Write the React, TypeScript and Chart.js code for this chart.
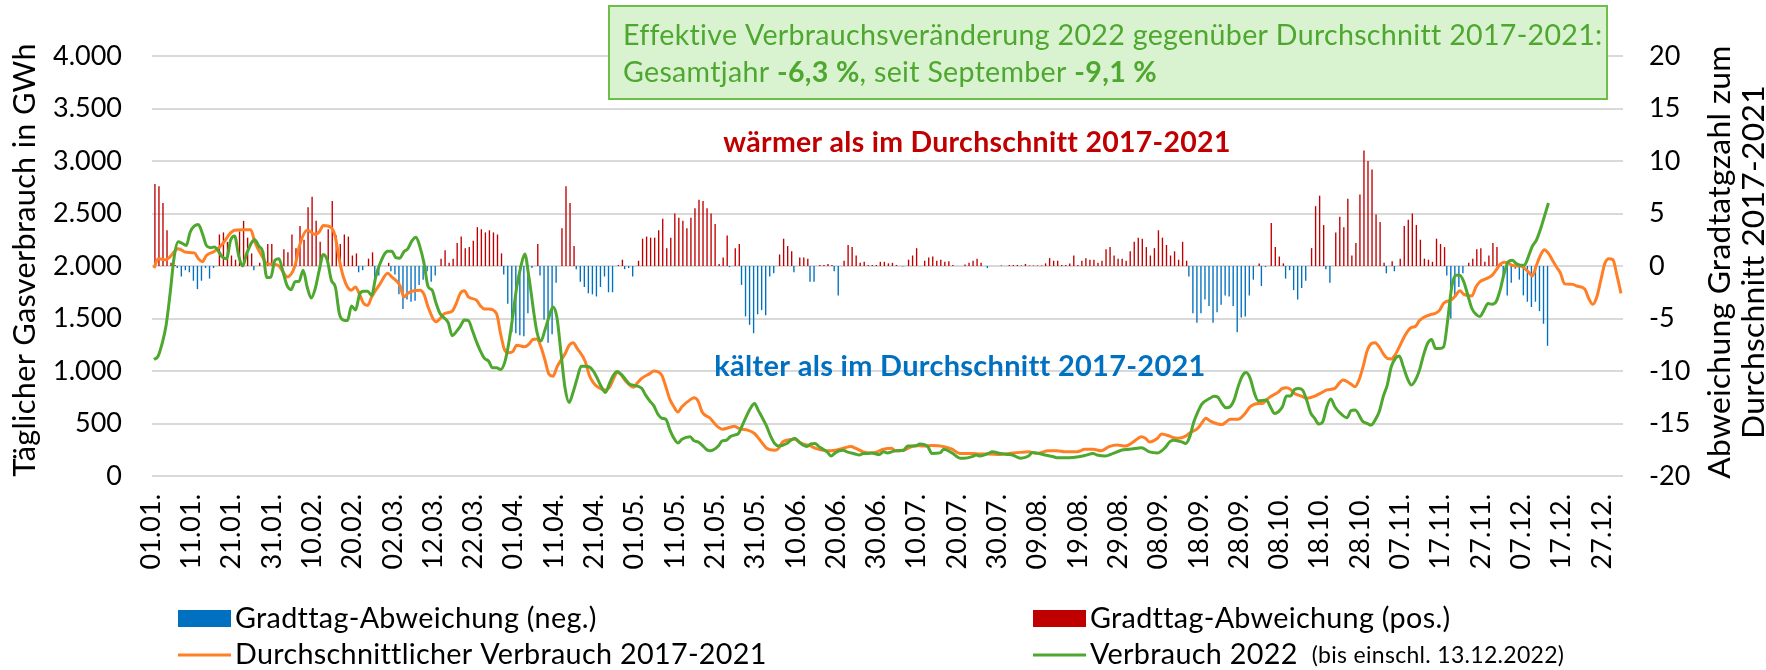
import React, { useEffect, useRef } from "react";
import { Chart, registerables } from "chart.js";

Chart.register(...registerables);

const W = 1766;
const H = 670;
const FONT = "Lato, 'Liberation Sans', Arial, sans-serif";

// ---------- categories / tick labels ----------
const MONTH_LENGTHS = [31, 28, 31, 30, 31, 30, 31, 31, 30, 31, 30, 31];
const DAY_LABELS: string[] = MONTH_LENGTHS.flatMap((len, m) =>
  Array.from({ length: len }, (_, i) => `${String(i + 1).padStart(2, "0")}.${String(m + 1).padStart(2, "0")}.`)
);
const TICK_STEP = 10;

const LEFT_AXIS = { min: 0, max: 4000, step: 500 };
const RIGHT_AXIS = { min: -20, max: 20, step: 5 };

// ---------- Gradtag deviation per day (01.01. - 13.12.) ----------
const GRADTAG_DEVIATION = [
  7.8, 7.6, 6.0, 3.4, 0.3, 0.1, -0.2, -1.0, -0.4, -0.6,
  -1.4, -2.2, -1.4, -0.2, -1.2, -0.2, 3.0, 3.2, 2.3, 1.0,
  0.6, 3.3, 4.3, 2.7, 1.2, -0.4, 0.3, 0, 2.1, 2.1,
  0, 0, 1.6, 1.3, 3.0, 1.7, 3.8, 2.5, 5.6, 6.6,
  4.3, 2.3, 0, 3.5, 6.2, 2.9, 2.1, 3.0, 2.8, 1.0,
  1.2, -0.6, -0.4, 0.7, 1.3, -1.2, -0.9, 0, 0.3, -0.5,
  -0.8, -2.7, -4.1, -3.2, -3.4, -3.3, -1.8, -1.3, -0.5, -1.5,
  -0.9, 0.7, 1.5, 0.3, 0.7, 2.2, 2.8, 1.7, 1.8, 2.4,
  3.7, 3.5, 3.2, 3.4, 3.2, 3.0, 1.2, -0.8, -3.6, -6.3,
  -6.4, -6.6, -6.7, -4.5, -0.2, 2.1, -0.9, -5.1, -7.3, -6.5,
  -1.6, 3.6, 7.6, 6.0, 1.9, -0.3, -1.5, -2.0, -2.6, -2.7,
  -2.9, -2.0, -1.0, -2.5, -2.5, 0.1, 0.6, -0.3, -0.2, -1.0,
  0.5, 2.6, 2.8, 2.7, 2.7, 3.4, 4.5, 1.7, 2.7, 5.0,
  4.6, 4.3, 3.6, 4.6, 5.5, 6.3, 6.2, 5.5, 5.0, 4.0,
  0.2, 0.8, 2.9, -0.1, 1.7, 2.1, -1.8, -4.8, -5.6, -6.4,
  -4.6, -4.2, -4.7, -1.0, -0.7, 1.1, 2.6, 1.9, 1.4, -0.6,
  0.8, 0.8, 0.7, -1.5, -1.5, 0.1, 0.1, 0.2, 0.1, -0.5,
  -2.8, 0.5, 2.0, 1.8, 1.0, 0.3, 0.4, 0.1, 0.1, 0.1,
  0.4, 0.4, 0.25, 0.3, 0.1, 0, -0.05, 0.6, 1.0, 1.7,
  0, 0.5, 0.8, 0.9, 0.5, 0.6, 0.4, 0.45, 0.1, 0,
  0, 0.15, 0.3, 0.5, 0.7, 0.3, 0, -0.2, 0, 0,
  0.05, 0, 0.1, 0.1, 0.1, 0.05, 0.2, 0.05, 0.05, 0.05,
  0.05, 0.25, 0.75, 0.5, 0.5, 0.1, 0.1, 0.25, 1.0, 0.1,
  0.5, 0.75, 0.6, 0.6, 0.3, 0.5, 1.6, 1.8, 1.0, 0.7,
  0.7, 0.5, 1.4, 2.3, 2.7, 2.6, 1.8, 1.0, 1.7, 3.4,
  2.7, 2.0, 1.0, 1.4, 0.6, 2.3, 0.5, -1.0, -4.5, -5.4,
  -4.5, -3.2, -3.8, -5.4, -4.4, -3.7, -2.8, -2.9, -3.8, -6.3,
  -4.9, -4.8, -2.8, -1.3, 0.25, -1.9, -0.1, 4.1, 1.8, 0.9,
  0.25, -1.2, -0.4, -2.3, -3.2, -2.1, -1.4, 1.7, 5.7, 6.7,
  3.9, -0.3, -1.6, 3.2, 4.7, 3.7, 6.4, 1.0, 2.2, 6.8,
  11.0, 10.0, 9.2, 4.9, 4.2, 0.3, -0.7, 0.45, -0.5, 0.7,
  3.8, 4.4, 5.0, 3.9, 2.5, 0.7, 0.6, 0.4, 2.6, 2.1,
  1.8, -0.9, -5.0, -2.9, -2.0, -0.7, 0.3, 0.7, 1.6, 1.7,
  0.4, 1.0, 2.2, 1.8, 0.15, -1.3, -2.8, -1.6, -0.25, -1.3,
  -2.8, -3.4, -3.9, -3.4, -4.3, -5.5, -7.6,
];

// ---------- Durchschnittlicher Verbrauch 2017-2021 [dayIndex, GWh] ----------
const AVG_2017_2021: [number, number][] = [
  [0, 1980], [1, 2070], [3, 2060], [4, 2090], [6, 2165], [8, 2130], [10, 2125], [11, 2070], [12, 2040], [13, 2100],
  [15, 2140], [17, 2210], [19, 2315], [20, 2340], [22, 2345], [24, 2345], [25, 2230], [27, 2080], [28, 2020], [30, 2015],
  [31, 2000], [32, 1945], [33, 1895], [35, 2005], [36, 2180], [38, 2340], [40, 2300], [41, 2325], [42, 2385], [44, 2365],
  [45, 2275], [46, 2055], [47, 1895], [48, 1800], [49, 1770], [50, 1800], [51, 1730], [52, 1645], [53, 1625], [54, 1705],
  [56, 1825], [58, 1930], [59, 1895], [61, 1815], [62, 1705], [63, 1740], [64, 1760], [66, 1770], [67, 1730], [68, 1610],
  [70, 1470], [71, 1500], [72, 1545], [74, 1570], [75, 1645], [76, 1740], [77, 1765], [78, 1705], [80, 1675], [81, 1620],
  [82, 1590], [83, 1590], [85, 1545], [86, 1355], [87, 1200], [88, 1175], [89, 1185], [90, 1245], [92, 1230], [93, 1255],
  [94, 1300], [95, 1305], [96, 1230], [97, 1105], [98, 970], [99, 950], [100, 1040], [102, 1165], [103, 1245], [104, 1270],
  [105, 1215], [107, 1090], [108, 960], [109, 890], [110, 850], [112, 820], [113, 845], [114, 925], [115, 985], [116, 960],
  [117, 905], [119, 845], [120, 890], [121, 930], [123, 975], [124, 1000], [125, 995], [126, 960], [127, 850], [128, 730],
  [129, 660], [130, 610], [131, 660], [133, 725], [134, 745], [135, 715], [136, 610], [138, 550], [139, 505], [140, 465],
  [141, 445], [143, 465], [144, 475], [145, 455], [146, 445], [147, 440], [149, 405], [150, 360], [151, 310], [152, 265],
  [154, 245], [155, 265], [156, 325], [157, 340], [159, 350], [160, 325], [161, 305], [163, 285], [164, 265], [166, 245],
  [168, 240], [169, 245], [171, 265], [173, 280], [174, 265], [176, 230], [178, 220], [179, 225], [181, 255], [183, 265],
  [184, 240], [186, 245], [188, 280], [189, 290], [191, 285], [193, 290], [196, 280], [198, 255], [200, 215], [203, 215],
  [205, 210], [207, 210], [210, 205], [212, 215], [215, 225], [217, 230], [219, 215], [222, 240], [224, 240], [226, 230],
  [229, 230], [231, 255], [233, 255], [235, 240], [237, 280], [239, 295], [241, 285], [243, 325], [245, 375], [246, 360],
  [247, 325], [249, 360], [250, 400], [252, 380], [253, 365], [254, 360], [256, 380], [257, 410], [259, 455], [260, 505],
  [261, 550], [262, 525], [264, 495], [265, 490], [266, 515], [267, 540], [269, 540], [270, 565], [271, 610], [272, 660],
  [274, 690], [275, 690], [276, 725], [277, 755], [279, 800], [280, 835], [281, 840], [282, 825], [283, 785], [284, 770],
  [285, 755], [286, 740], [288, 760], [289, 780], [290, 800], [291, 820], [293, 835], [294, 880], [295, 915], [296, 900],
  [297, 875], [298, 850], [299, 915], [300, 1040], [301, 1190], [302, 1260], [303, 1270], [304, 1230], [305, 1165], [306, 1120],
  [307, 1115], [308, 1155], [309, 1230], [310, 1310], [311, 1375], [312, 1415], [313, 1425], [314, 1480], [315, 1510], [317, 1540],
  [318, 1550], [319, 1580], [320, 1645], [322, 1680], [323, 1720], [324, 1765], [325, 1730], [327, 1715], [328, 1800], [329, 1850],
  [330, 1870], [332, 1910], [333, 1960], [334, 2015], [335, 2035], [336, 2030], [337, 2005], [338, 2000], [339, 2000], [341, 1945],
  [342, 1905], [343, 2005], [344, 2100], [345, 2155], [346, 2120], [347, 2055], [348, 1990], [349, 1930], [350, 1830], [352, 1825],
  [353, 1810], [355, 1780], [356, 1690], [357, 1635], [358, 1705], [359, 1865], [360, 2025], [361, 2070], [362, 2060], [363, 1910],
  [364, 1740],
];

// ---------- Verbrauch 2022 (bis einschl. 13.12.2022) [dayIndex, GWh] ----------
const CONSUMPTION_2022: [number, number][] = [
  [0, 1110], [1, 1140], [2, 1260], [3, 1435], [4, 1740], [5, 2085], [6, 2230], [7, 2215], [8, 2195], [9, 2325],
  [11, 2395], [12, 2310], [13, 2195], [14, 2175], [15, 2180], [17, 2085], [18, 2070], [19, 2245], [20, 2285], [21, 2100],
  [22, 2000], [23, 2120], [25, 2250], [26, 2190], [27, 2135], [28, 1890], [29, 1895], [30, 2055], [31, 2070], [32, 1945],
  [33, 1815], [34, 1775], [35, 1850], [36, 1855], [37, 1960], [38, 1800], [39, 1695], [40, 1785], [41, 1960], [42, 2110],
  [43, 2055], [44, 1865], [45, 1800], [46, 1545], [47, 1485], [48, 1480], [49, 1620], [50, 1580], [51, 1730], [52, 1760],
  [53, 1760], [54, 1720], [55, 1895], [56, 2015], [58, 2140], [59, 2140], [60, 2080], [61, 2075], [62, 2135], [63, 2165],
  [64, 2240], [65, 2275], [66, 2180], [67, 2025], [68, 1805], [69, 1770], [70, 1645], [71, 1545], [73, 1460], [74, 1335],
  [75, 1375], [76, 1425], [77, 1485], [78, 1480], [79, 1385], [80, 1280], [81, 1190], [82, 1120], [83, 1095], [84, 1030],
  [85, 1030], [86, 1015], [87, 1080], [88, 1260], [89, 1515], [90, 1800], [91, 1990], [92, 2115], [93, 1900], [95, 1375],
  [96, 1285], [97, 1390], [98, 1515], [99, 1610], [100, 1505], [101, 1165], [102, 835], [103, 700], [104, 800], [105, 930],
  [106, 1045], [107, 1045], [108, 1040], [109, 1000], [110, 930], [111, 850], [112, 795], [113, 880], [114, 960], [115, 995],
  [116, 965], [117, 920], [118, 875], [119, 865], [121, 835], [122, 770], [123, 715], [124, 670], [125, 590], [126, 550],
  [127, 540], [128, 440], [129, 360], [130, 315], [131, 350], [133, 375], [134, 335], [135, 325], [136, 295], [137, 255],
  [138, 240], [140, 285], [141, 335], [142, 340], [143, 375], [144, 390], [145, 405], [146, 485], [148, 645], [149, 690],
  [150, 620], [151, 550], [152, 475], [153, 380], [154, 310], [155, 285], [157, 310], [158, 340], [159, 360], [160, 325],
  [161, 295], [162, 280], [163, 305], [164, 310], [165, 280], [166, 255], [167, 230], [168, 190], [169, 220], [170, 240],
  [171, 245], [172, 230], [174, 210], [175, 200], [176, 215], [177, 215], [178, 220], [180, 205], [181, 230], [182, 220],
  [183, 230], [184, 240], [186, 245], [187, 285], [189, 285], [190, 305], [192, 280], [193, 215], [195, 220], [196, 255],
  [198, 220], [200, 170], [201, 170], [203, 185], [204, 200], [205, 190], [207, 215], [208, 230], [210, 215], [212, 205],
  [213, 200], [215, 170], [217, 190], [218, 225], [219, 220], [221, 200], [223, 185], [224, 175], [227, 175], [229, 180],
  [231, 195], [233, 215], [234, 200], [236, 190], [238, 215], [240, 245], [242, 255], [244, 265], [245, 270], [247, 230],
  [249, 220], [251, 275], [252, 325], [253, 340], [255, 325], [256, 310], [257, 375], [258, 515], [259, 610], [260, 685],
  [262, 740], [263, 760], [264, 750], [265, 690], [266, 650], [267, 660], [268, 725], [269, 850], [270, 950], [271, 985],
  [272, 930], [273, 795], [274, 717], [276, 723], [277, 660], [278, 596], [279, 612], [280, 660], [281, 761], [282, 761],
  [283, 824], [284, 834], [285, 818], [286, 723], [287, 602], [288, 549], [289, 495], [290, 517], [291, 660], [292, 733],
  [293, 660], [294, 612], [296, 555], [297, 622], [298, 628], [300, 517], [301, 501], [302, 485], [303, 533], [304, 612],
  [305, 755], [306, 866], [307, 1040], [308, 1119], [309, 1142], [310, 1040], [311, 929], [312, 866], [313, 913], [314, 1008],
  [315, 1151], [316, 1262], [317, 1300], [318, 1214], [319, 1214], [320, 1230], [321, 1484], [322, 1800], [323, 1912], [324, 1912],
  [325, 1849], [326, 1722], [327, 1595], [328, 1541], [329, 1519], [330, 1579], [331, 1643], [332, 1636], [333, 1659], [334, 1769],
  [335, 1928], [336, 2039], [337, 2055], [338, 2023], [339, 2007], [340, 2007], [341, 2087], [342, 2188], [343, 2245], [344, 2347],
  [345, 2473], [346, 2600],
];

// ---------- texts ----------
const LEGEND_NEG = "Gradttag-Abweichung (neg.)";
const LEGEND_POS = "Gradttag-Abweichung (pos.)";
const LEGEND_AVG = "Durchschnittlicher Verbrauch 2017-2021";
const LEGEND_CUR = "Verbrauch 2022";
const LEGEND_CUR_NOTE = "(bis einschl. 13.12.2022)";
const Y_TITLE_LEFT = "Täglicher Gasverbrauch in GWh";
const Y_TITLE_RIGHT = ["Abweichung Gradtatgzahl zum", "Durchschnitt 2017-2021"];
const WARM_TEXT = "wärmer als im Durchschnitt 2017-2021";
const COLD_TEXT = "kälter als im Durchschnitt 2017-2021";
const BOX_LINE_1 = "Effektive Verbrauchsveränderung 2022 gegenüber Durchschnitt 2017-2021:";
const BOX_LINE_2: [string, boolean][] = [
  ["Gesamtjahr ", false],
  ["-6,3 %", true],
  [", seit September ", false],
  ["-9,1 %", true],
];

// ---------- colours ----------
const C_BLUE = "#0070c0";
const C_RED = "#c00000";
const C_ORANGE = "#ff7f27";
const C_GREEN = "#4ea72e";
const C_GRID = "#d9d9d9";

// ---------- layout ----------
const PLOT = { left: 152, right: 1623, top: 56, bottom: 476 };

const toDaily = (pts: [number, number][]) => {
  const arr: (number | null)[] = DAY_LABELS.map(() => null);
  pts.forEach(([d, v]) => {
    arr[d] = v;
  });
  return arr;
};

const fitSize = (ctx: CanvasRenderingContext2D, text: string, weight: string, target: number) => {
  ctx.font = `${weight} 100px ${FONT}`;
  return (100 * target) / ctx.measureText(text).width;
};

const overlayPlugin = {
  id: "overlay",
  afterDraw(chart: any) {
    const ctx: any = chart.ctx;
    ctx.save();
    ctx.textBaseline = "middle";
    ctx.letterSpacing = "0.3px";

    // annotation box
    ctx.fillStyle = "#d9f2d0";
    ctx.fillRect(609, 6, 998, 93);
    ctx.strokeStyle = "#6cc04a";
    ctx.lineWidth = 2;
    ctx.strokeRect(609, 6, 998, 93);
    const boxSize = fitSize(ctx, BOX_LINE_1, "normal", 965);
    ctx.fillStyle = C_GREEN;
    ctx.textAlign = "left";
    ctx.font = `normal ${boxSize}px ${FONT}`;
    ctx.fillText(BOX_LINE_1, 623, 36);
    let cx = 623;
    BOX_LINE_2.forEach(([t, bold]) => {
      ctx.font = `${bold ? "bold" : "normal"} ${boxSize}px ${FONT}`;
      ctx.fillText(t, cx, 73);
      cx += ctx.measureText(t).width;
    });

    // warm / cold texts
    ctx.textAlign = "center";
    let s = fitSize(ctx, WARM_TEXT, "bold", 500);
    ctx.font = `bold ${s}px ${FONT}`;
    ctx.fillStyle = C_RED;
    ctx.fillText(WARM_TEXT, 977, 143);
    s = fitSize(ctx, COLD_TEXT, "bold", 484);
    ctx.font = `bold ${s}px ${FONT}`;
    ctx.fillStyle = C_BLUE;
    ctx.fillText(COLD_TEXT, 960, 367);

    // axis titles
    ctx.fillStyle = "#000";
    s = fitSize(ctx, Y_TITLE_LEFT, "normal", 428);
    ctx.font = `normal ${s}px ${FONT}`;
    ctx.save();
    ctx.translate(25, 260);
    ctx.rotate(-Math.PI / 2);
    ctx.fillText(Y_TITLE_LEFT, 0, 0);
    ctx.restore();
    s = fitSize(ctx, Y_TITLE_RIGHT[0], "normal", 428);
    ctx.font = `normal ${s}px ${FONT}`;
    [1720, 1754].forEach((x, i) => {
      ctx.save();
      ctx.translate(x, 262);
      ctx.rotate(-Math.PI / 2);
      ctx.fillText(Y_TITLE_RIGHT[i], 0, 0);
      ctx.restore();
    });

    // legend
    ctx.textAlign = "left";
    const ls = fitSize(ctx, LEGEND_AVG, "normal", 524);
    ctx.font = `normal ${ls}px ${FONT}`;
    ctx.fillStyle = C_BLUE;
    ctx.fillRect(178, 610, 53, 17);
    ctx.fillStyle = C_RED;
    ctx.fillRect(1033, 610, 53, 17);
    ctx.lineWidth = 3;
    ctx.strokeStyle = C_ORANGE;
    ctx.beginPath();
    ctx.moveTo(178, 655);
    ctx.lineTo(231, 655);
    ctx.stroke();
    ctx.strokeStyle = C_GREEN;
    ctx.beginPath();
    ctx.moveTo(1033, 655);
    ctx.lineTo(1086, 655);
    ctx.stroke();
    ctx.fillStyle = "#000";
    ctx.fillText(LEGEND_NEG, 235, 619);
    ctx.fillText(LEGEND_POS, 1090, 619);
    ctx.fillText(LEGEND_AVG, 235, 655);
    ctx.fillText(LEGEND_CUR, 1090, 655);
    const wCur = ctx.measureText(LEGEND_CUR).width;
    ctx.font = `normal ${ls * 0.8}px ${FONT}`;
    ctx.fillText(LEGEND_CUR_NOTE, 1090 + wCur + 14, 656);

    ctx.restore();
  },
};

const fmtThousands = (v: number) => String(v).replace(/\B(?=(\d{3})+(?!\d))/g, ".");

export default function App() {
  const canvasRef = useRef<HTMLCanvasElement | null>(null);

  useEffect(() => {
    document.body.style.margin = "0";
    const canvas = canvasRef.current;
    if (!canvas) return;
    const neg = DAY_LABELS.map((_, i) => {
      const v = GRADTAG_DEVIATION[i];
      return v !== undefined && v < 0 ? v : null;
    });
    const pos = DAY_LABELS.map((_, i) => {
      const v = GRADTAG_DEVIATION[i];
      return v !== undefined && v > 0 ? v : null;
    });
    const tickFont = { family: FONT, size: 27 };

    const chart = new Chart(canvas, {
      type: "bar",
      data: {
        labels: DAY_LABELS,
        datasets: [
          {
            type: "line",
            label: LEGEND_CUR,
            data: toDaily(CONSUMPTION_2022),
            yAxisID: "y",
            borderColor: C_GREEN,
            borderWidth: 3,
            pointRadius: 0,
            spanGaps: true,
            cubicInterpolationMode: "monotone",
            order: 0,
          },
          {
            type: "line",
            label: LEGEND_AVG,
            data: toDaily(AVG_2017_2021),
            yAxisID: "y",
            borderColor: C_ORANGE,
            borderWidth: 3,
            pointRadius: 0,
            spanGaps: true,
            cubicInterpolationMode: "monotone",
            order: 1,
          },
          {
            type: "bar",
            label: LEGEND_NEG,
            data: neg,
            yAxisID: "y2",
            backgroundColor: C_BLUE,
            categoryPercentage: 0.9,
            barPercentage: 0.75,
            order: 2,
          },
          {
            type: "bar",
            label: LEGEND_POS,
            data: pos,
            yAxisID: "y2",
            backgroundColor: C_RED,
            categoryPercentage: 0.9,
            barPercentage: 0.75,
            order: 3,
          },
        ],
      },
      options: {
        responsive: false,
        animation: false,
        devicePixelRatio: 1,
        layout: { padding: { top: PLOT.top, left: 0, right: 0, bottom: 0 } },
        plugins: { legend: { display: false }, tooltip: { enabled: false } },
        scales: {
          x: {
            type: "category",
            offset: true,
            grid: { display: false, drawTicks: false },
            border: { display: false },
            ticks: {
              autoSkip: false,
              minRotation: 90,
              maxRotation: 90,
              padding: 18,
              labelOffset: -3,
              color: "#000",
              font: tickFont,
              callback: (_v: any, i: number) => (i % TICK_STEP === 0 ? DAY_LABELS[i] : ""),
            },
            afterFit: (s: any) => {
              s.height = H - PLOT.bottom;
            },
          },
          y: {
            position: "left",
            min: LEFT_AXIS.min,
            max: LEFT_AXIS.max,
            grid: { color: C_GRID, lineWidth: 2, drawTicks: false },
            border: { display: false },
            ticks: {
              stepSize: LEFT_AXIS.step,
              padding: 30,
              color: "#000",
              font: tickFont,
              callback: (v: any) => fmtThousands(Number(v)),
            },
            afterFit: (s: any) => {
              s.width = PLOT.left;
            },
          },
          y2: {
            position: "right",
            min: RIGHT_AXIS.min,
            max: RIGHT_AXIS.max,
            grid: { display: false, drawTicks: false },
            border: { display: false },
            ticks: {
              stepSize: RIGHT_AXIS.step,
              padding: 26,
              color: "#000",
              font: tickFont,
              callback: (v: any) => String(v),
            },
            afterFit: (s: any) => {
              s.width = W - PLOT.right;
            },
          },
        },
      },
      plugins: [overlayPlugin],
    } as any);

    return () => chart.destroy();
  }, []);

  return (
    <div style={{ position: "absolute", left: 0, top: 0, width: W, height: H, background: "#fff" }}>
      <canvas ref={canvasRef} width={W} height={H} style={{ width: W, height: H, display: "block" }} />
    </div>
  );
}
